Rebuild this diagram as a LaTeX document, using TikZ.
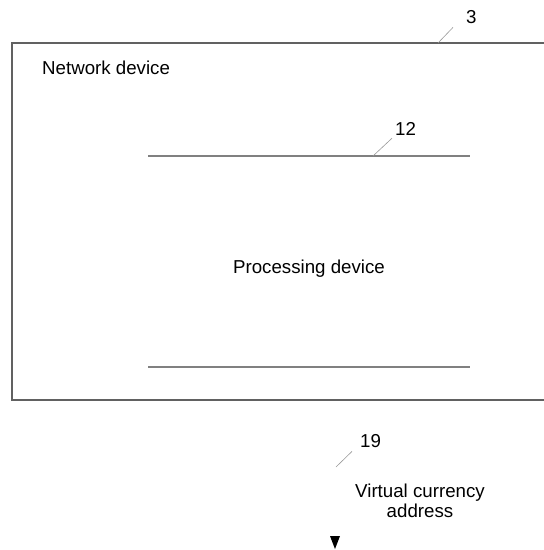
\documentclass[tikz,border=0pt]{standalone}
\usepackage{fontspec}
\setmainfont{Liberation Sans}
\usetikzlibrary{positioning, arrows.meta}

\tikzset{
    label text/.style={inner sep=0pt, font=\fontsize{18.7}{20}\selectfont},
    frame line/.style={draw=black!62, line width=1.2pt},
    part line/.style={draw=black!50, line width=1.2pt},
    leader/.style={draw=black!40, line width=0.6pt}
}

\begin{document}
\begin{tikzpicture}[x=1pt, y=-1pt]
    \useasboundingbox (0,0) rectangle (544,550);
    \clip (0,0) rectangle (544,550);

    % network device frame
    \draw[frame line] (600,43) -- (12,43) -- (12,400) -- (600,400);
    \node [label text, anchor=base west] (netdev) at (42,74) {Network device};

    % processing device
    \coordinate (proctopl) at (148,156);
    \coordinate (proctopr) at (470,156);
    \coordinate (procbotl) at (148,367);
    \coordinate (procbotr) at (470,367);
    \draw[part line] (proctopl) -- (proctopr);
    \draw[part line] (procbotl) -- (procbotr);
    \node [label text, anchor=base] (procdev) at (309,273) {Processing device};

    % reference numerals
    \node [label text, anchor=base west] (ref3) at (466,23) {3};
    \coordinate (lead3) at (438,43);
    \draw[leader] (lead3) -- ([xshift=-13pt, yshift=-4pt]ref3.south west);

    \node [label text, anchor=base west] (ref12) at (395,135) {12};
    \coordinate (lead12) at (373,156);
    \draw[leader] (lead12) -- ([xshift=-3pt, yshift=-3pt]ref12.south west);

    \node [label text, anchor=base west] (ref19) at (360,447) {19};
    \coordinate (lead19) at (336,467);
    \draw[leader] (lead19) -- ([xshift=-8pt, yshift=-4pt]ref19.south west);

    % virtual currency address
    \node [label text, align=center, anchor=base] (vcaddr) at (420,517)
        {Virtual currency\\[0pt]address};

    % arrow tip leaving the picture
    \coordinate (tipl) at (330,536);
    \coordinate (tipr) at (340,536);
    \coordinate (tipend) at (335,549);
    \fill[black] (tipl) -- (tipr) -- (tipend) -- cycle;
\end{tikzpicture}
\end{document}
